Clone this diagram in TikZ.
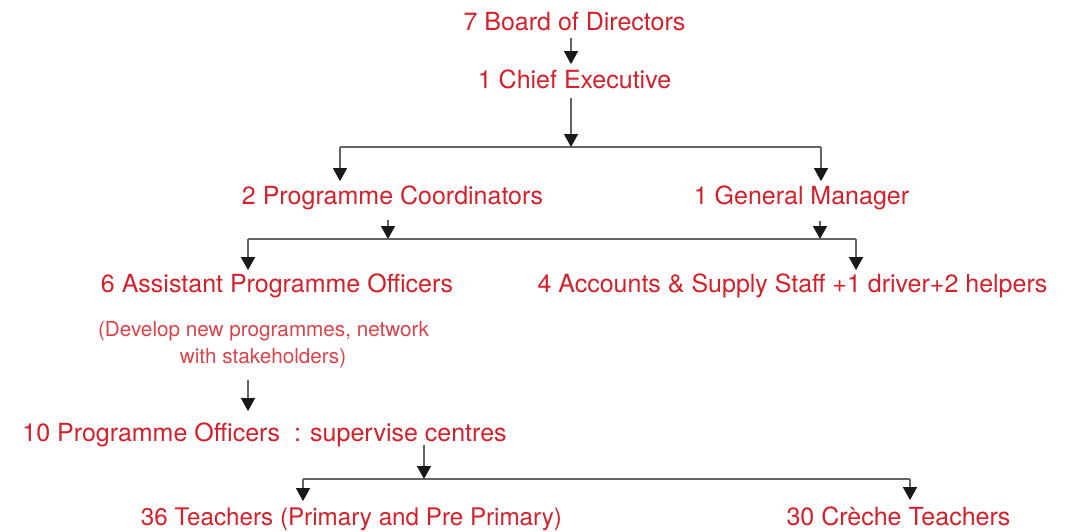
\documentclass[tikz,border=0pt]{standalone}
\usepackage{fontspec}
\setmainfont{TeX Gyre Heros}
\usepackage{tikz}
\usetikzlibrary{arrows.meta}

\definecolor{orgred}{RGB}{212,32,42}
\definecolor{wiregray}{RGB}{100,100,100}

\begin{document}
\begin{tikzpicture}[x=1pt,y=-1pt,
  >={Triangle[width=14pt,length=13pt,color=black!90]},
  post/.style={text=orgred,font=\fontsize{25}{29}\selectfont,anchor=base,inner sep=0pt},
  note/.style={text=orgred!85,font=\fontsize{20.7}{24}\selectfont,anchor=base,inner sep=0pt},
  wire/.style={draw=wiregray,line width=1.3pt},
  link/.style={wire,->}]
  \useasboundingbox (0,0) rectangle (1071,531);

  % posts, top to bottom
  \node [post] (board) at (574.5,30) {7 Board of Directors};
  \node [post] (ceo) at (574.5,88) {1 Chief Executive};
  \node [post] (prog) at (392.5,204) {2 Programme Coordinators};
  \node [post] (gm) at (801.5,204) {1 General Manager};
  \node [post] (apo) at (277,292) {6 Assistant Programme Officers};
  \node [post] (acc) at (792.5,292) {4 Accounts \& Supply Staff +1 driver+2 helpers};
  \node [note] (duty1) at (263.5,336) {(Develop new programmes, network};
  \node [note] (duty2) at (263,363) {with stakeholders)};
  \node [post] (po) at (264.5,441) {10 Programme Officers\ \ : supervise centres};
  \node [post,font=\fontsize{24.2}{29}\selectfont] (teach) at (351.5,525) {36 Teachers (Primary and Pre Primary)};
  \node [post] (creche) at (898.5,525) {30 Crèche Teachers};

  % junctions
  \coordinate (j1) at (571,147);
  \coordinate (j1l) at (340,147);
  \coordinate (j1r) at (821,147);
  \coordinate (j2a) at (388,239);
  \coordinate (j2b) at (820,239);
  \coordinate (j2l) at (248,239);
  \coordinate (j2r) at (856,239);
  \coordinate (j3) at (424,479);
  \coordinate (j3l) at (303,479);
  \coordinate (j3r) at (910,479);

  \draw [link,shorten <=7pt,shorten >=5pt] (board.south -| j1) -- (ceo.north -| j1);
  \draw [link,shorten <=9pt] (ceo.south -| j1) -- (j1);
  \draw [wire] (j1l) -- (j1r);
  \draw [link,shorten >=4pt] (j1l) -- (j1l |- prog.north);
  \draw [link,shorten >=4pt] (j1r) -- (j1r |- gm.north);

  \draw [link,shorten <=10pt] (prog.south -| j2a) -- (j2a);
  \draw [link,shorten <=11pt] (gm.south -| j2b) -- (j2b);
  \draw [wire] (j2l) -- (j2r);
  \draw [link,shorten >=3pt] (j2l) -- (j2l |- apo.north);
  \draw [link,shorten >=3pt] (j2r) -- (j2r |- acc.north);

  \draw [link,shorten <=12pt,shorten >=11pt] (duty2.south -| j2l) -- (po.north -| j2l);
  \draw [link,shorten <=-2pt] (po.south -| j3) -- (j3);
  \draw [wire] (j3l) -- (j3r);
  \draw [link,shorten >=6pt] (j3l) -- (j3l |- teach.north);
  \draw [link,shorten >=6pt] (j3r) -- (j3r |- creche.north);
\end{tikzpicture}
\end{document}
